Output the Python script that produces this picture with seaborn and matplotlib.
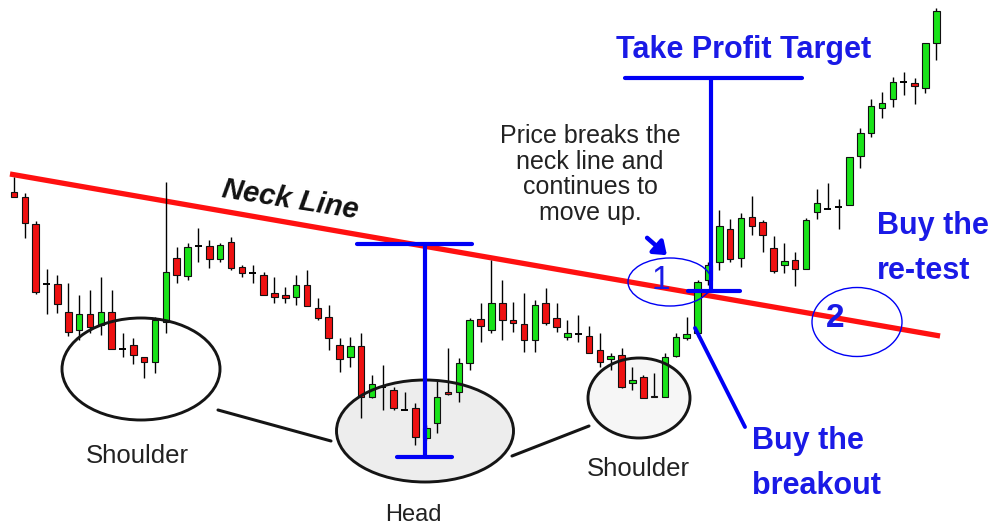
import numpy as np
import pandas as pd
import matplotlib
matplotlib.use("Agg")
import matplotlib.pyplot as plt
from matplotlib.patches import Ellipse
import seaborn as sns

# Daily candles, oldest first (price units)
opens = [334, 329, 302, 242, 242, 214, 196, 212, 201, 214, 177, 181, 169, 164, 204,
         268, 250, 280, 280, 267, 284, 259, 253, 251, 233, 231, 229, 241, 218, 209,
         181, 169, 180, 129, 139, 136, 116, 118, 88, 103, 134, 134, 163, 207, 196,
         223, 206, 202, 186, 223, 208, 189, 192, 190, 176, 167, 171, 143, 149, 130,
         129, 170, 188, 193, 246, 264, 297, 268, 309, 304, 278, 261, 266, 257, 314,
         317, 319, 321, 370, 393, 418, 427, 444, 443, 438, 483]
highs = [349, 333, 305, 257, 251, 243, 231, 236, 249, 236, 193, 188, 169, 209, 344,
         279, 283, 298, 286, 283, 289, 261, 261, 254, 249, 239, 251, 256, 228, 221,
         188, 189, 193, 151, 161, 139, 134, 123, 101, 146, 178, 168, 208, 223, 266,
         246, 224, 233, 226, 238, 223, 206, 211, 200, 193, 173, 178, 159, 151, 153,
         173, 193, 209, 246, 264, 316, 307, 313, 330, 306, 290, 283, 274, 308, 337,
         343, 327, 369, 398, 427, 434, 449, 454, 448, 483, 518]
lows = [329, 288, 232, 212, 213, 190, 186, 193, 191, 177, 169, 162, 148, 153, 193,
        243, 246, 264, 258, 264, 256, 249, 243, 231, 223, 223, 221, 220, 206, 176,
        154, 159, 108, 128, 116, 116, 116, 81, 86, 93, 131, 124, 156, 184, 193,
        186, 194, 174, 174, 201, 194, 186, 184, 173, 159, 156, 138, 136, 128, 129,
        129, 169, 186, 189, 241, 256, 264, 259, 291, 274, 253, 253, 240, 257, 307,
        317, 297, 321, 358, 389, 408, 419, 431, 422, 433, 466]
closes = [329, 303, 234, 242, 222, 194, 212, 199, 214, 177, 177, 171, 164, 206, 254,
          251, 279, 280, 267, 281, 258, 253, 253, 231, 229, 228, 241, 220, 208, 188,
          167, 180, 129, 142, 139, 118, 116, 89, 98, 129, 132, 163, 206, 200, 223,
          206, 203, 186, 221, 203, 199, 193, 192, 173, 164, 170, 139, 146, 128, 129,
          169, 189, 192, 244, 261, 300, 267, 308, 300, 291, 255, 265, 257, 306, 323,
          317, 319, 369, 393, 420, 423, 444, 444, 440, 483, 515]

# Neck line anchors (candle index, price)
neck_idx = [-0.37, 85.35]
neck_price = [352, 190]

W, H = 994, 526
STEP, X0 = 10.85, 14.0

sns.set_theme(style="white")
plt.rcParams["font.family"] = ["Liberation Sans", "DejaVu Sans"]

fig = plt.figure(figsize=(W / 100, H / 100), dpi=100)
fig.patch.set_facecolor("white")

# canvas-space layers: shading underneath, annotations on top
under = fig.add_axes([0, 0, 1, 1])
ax = fig.add_axes([0, 0, 1, 1])
over = fig.add_axes([0, 0, 1, 1])
for a in (under, over):
    a.set_xlim(0, W)
    a.set_ylim(H, 0)
for a in (under, ax, over):
    a.set_axis_off()
    a.patch.set_facecolor("none")

ax.set_xlim(-X0 / STEP, (W - X0) / STEP)
ax.set_ylim(0, H)

# soft shading inside the head and right shoulder
for (cx, cy, w, h, fc) in [(425, 431, 177, 102, "#ededed"), (639, 398, 102, 80, "#f6f6f6")]:
    under.add_patch(Ellipse((cx, cy), w, h, facecolor=fc, edgecolor="none"))

# neck line
neck = pd.DataFrame({"idx": neck_idx, "price": neck_price})
sns.lineplot(data=neck, x="idx", y="price", ax=ax, color="#ff1010", lw=3.8,
             zorder=2, solid_capstyle="butt")

# candlesticks
o, hi, lo, c = map(np.asarray, (opens, highs, lows, closes))
idx = np.arange(len(o))
ax.vlines(idx, lo, hi, color="black", lw=1.0, zorder=3)
up, down, flat = c > o, c < o, c == o
bottom = np.minimum(o, c)
height = np.abs(c - o)
ax.bar(idx[up], height[up], bottom=bottom[up], width=0.6, color="#19e319",
       edgecolor="#111111", lw=0.8, zorder=4)
ax.bar(idx[down], height[down], bottom=bottom[down], width=0.6, color="#ee1111",
       edgecolor="#111111", lw=0.8, zorder=4)
ax.hlines(o[flat], idx[flat] - 0.32, idx[flat] + 0.32, color="black", lw=1.4, zorder=4)

# pattern outlines
for (cx, cy, w, h) in [(141, 369, 158, 102), (425, 431, 177, 102), (639, 398, 102, 80)]:
    over.add_patch(Ellipse((cx, cy), w, h, fill=False, edgecolor="#151515", lw=2.1))
over.plot([218, 331], [410, 441], color="#151515", lw=2.2, solid_capstyle="round")
over.plot([512, 589], [456, 426], color="#151515", lw=2.2, solid_capstyle="round")

BLUE = "#0000f5"
TXT_BLUE = "#1a1ae6"

# head-to-neck measurement
over.plot([357, 472], [244, 244], color=BLUE, lw=3)
over.plot([425, 425], [244, 457], color=BLUE, lw=3)
over.plot([397, 452], [457, 457], color=BLUE, lw=3)

# projected target
over.plot([625, 802], [78, 78], color=BLUE, lw=3)
over.plot([711, 711], [78, 291], color=BLUE, lw=3)
over.plot([688, 740], [291, 291], color=BLUE, lw=3)

# breakout pointer
over.plot([695, 745], [328, 427], color=BLUE, lw=2.8)

# entry zones
over.add_patch(Ellipse((670, 282), 84, 48, fill=False, edgecolor=BLUE, lw=1.0))
over.add_patch(Ellipse((857, 322), 90, 69, fill=False, edgecolor=BLUE, lw=1.0))
over.text(661, 289, "1", color=TXT_BLUE, fontsize=24, ha="center", va="baseline")
over.text(835, 327, "2", color=TXT_BLUE, fontsize=24, fontweight="bold",
          ha="center", va="baseline")

over.annotate("", xy=(669, 257), xytext=(645, 236),
              arrowprops=dict(arrowstyle="-|>,head_width=0.45,head_length=0.6",
                              color=BLUE, lw=3.2))

# labels
over.text(290, 200, "Neck Line", fontsize=21, fontweight="bold", fontstyle="italic",
          color="#111111", rotation=-9, ha="center", va="center",
          rotation_mode="anchor")
over.text(744, 50, "Take Profit Target", fontsize=22, fontweight="bold",
          color=TXT_BLUE, ha="center", va="center")
over.text(590, 124, "Price breaks the\nneck line and\ncontinues to\nmove up.",
          fontsize=18, color="#222222", ha="center", va="top", linespacing=1.08)

for x, y, s in [(877, 234, "Buy the"), (877, 279, "re-test"),
                (752, 449, "Buy the"), (752, 494, "breakout")]:
    over.text(x, y, s, fontsize=22, fontweight="bold", color=TXT_BLUE,
              ha="left", va="baseline")

over.text(137, 456, "Shoulder", fontsize=18.5, color="#222222", ha="center", va="center")
over.text(413, 515, "Head", fontsize=17, color="#222222", ha="center", va="center")
over.text(638, 469, "Shoulder", fontsize=18.5, color="#222222", ha="center", va="center")

fig.savefig("out.png", dpi=100, facecolor="white")
